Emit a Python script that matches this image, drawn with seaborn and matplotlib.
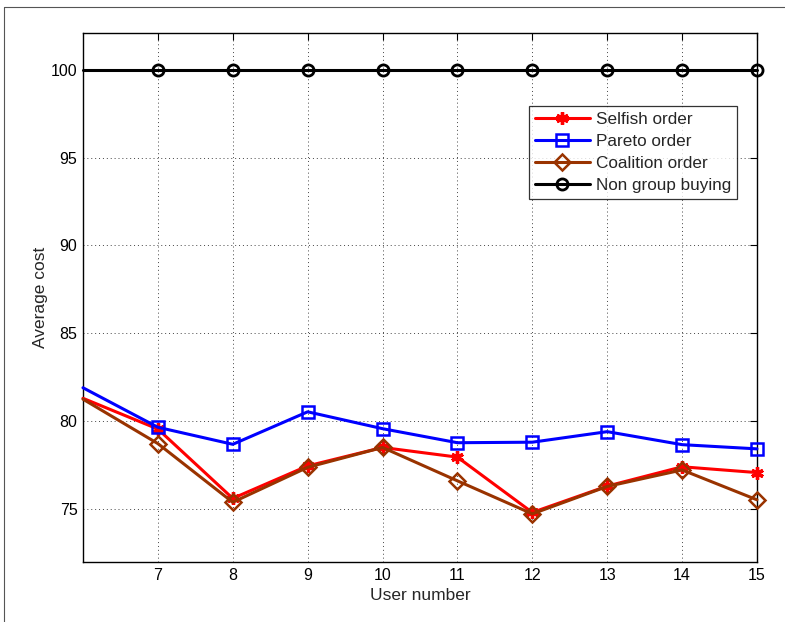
"""
Average cost vs. user number for the four ordering strategies.
Writes out.png (785x622).
"""

import pandas as pd
import matplotlib.pyplot as plt
import seaborn as sns
from matplotlib.lines import Line2D

USERS = [6, 7, 8, 9, 10, 11, 12, 13, 14, 15]
SELFISH = [81.3, 79.55, 75.6, 77.45, 78.5, 77.95, 74.8, 76.3, 77.4, 77.07]
PARETO = [81.9, 79.65, 78.68, 80.53, 79.57, 78.77, 78.8, 79.4, 78.66, 78.42]
COALITION = [81.25, 78.72, 75.38, 77.37, 78.5, 76.6, 74.72, 76.28, 77.22, 75.52]
NON_GROUP = [100, 100, 100, 100, 100, 100, 100, 100, 100, 100]

X_TICKS = [7, 8, 9, 10, 11, 12, 13, 14, 15]
Y_TICKS = [75, 80, 85, 90, 95, 100]

SERIES = [
    ("Selfish order", SELFISH, "#ff0000", dict(marker=(6, 2, 0), markersize=9, markeredgewidth=2.4)),
    ("Pareto order", PARETO, "#0000ff", dict(marker="s", markersize=8, markerfacecolor="none", markeredgewidth=1.8)),
    ("Coalition order", COALITION, "#993300", dict(marker="D", markersize=8, markerfacecolor="none", markeredgewidth=1.8)),
    ("Non group buying", NON_GROUP, "#000000", dict(marker="o", markersize=8, markerfacecolor="none", markeredgewidth=2.0)),
]


def main() -> None:
    sns.set_style("white")
    plt.rcParams["font.family"] = ["Liberation Sans", "DejaVu Sans"]

    fig = plt.figure(figsize=(7.85, 6.22), dpi=100)
    ax = fig.add_axes([0.1057, 0.0965, 0.8586, 0.8505])

    for label, values, color, style in SERIES:
        df = pd.DataFrame({"user": USERS, "cost": values})
        sns.lineplot(data=df, x="user", y="cost", ax=ax, color=color,
                     linewidth=2.2, label=label, markevery=list(range(1, len(USERS))),
                     markeredgecolor=color, clip_on=False, zorder=3, **style)

    ax.set_xlim(6, 15)
    ax.set_ylim(71.98, 102.1)
    ax.set_xticks(X_TICKS)
    ax.set_yticks(Y_TICKS)
    ax.set_xlabel("User number", fontsize=12.5, labelpad=4)
    ax.set_ylabel("Average cost", fontsize=12.5, labelpad=2)
    ax.tick_params(direction="in", length=5, width=0.8, labelsize=11.5,
                   top=True, right=True, colors="black", pad=4)
    ax.grid(True, linestyle=(0, (1, 3)), color="#444444", linewidth=0.7)
    for sp in ax.spines.values():
        sp.set_color("black")
        sp.set_linewidth(1.0)

    leg = ax.legend(loc="upper right", bbox_to_anchor=(0.970, 0.862),
                    fontsize=12.3, frameon=True, fancybox=False,
                    handlelength=3.2, borderpad=0.35, labelspacing=0.42,
                    handletextpad=0.35, borderaxespad=0)
    leg.get_frame().set_edgecolor("black")
    leg.get_frame().set_linewidth(0.9)

    # thin frame lines along the top and left of the figure
    fig.add_artist(Line2D([4 / 785, 1], [1 - 7 / 622, 1 - 7 / 622],
                          transform=fig.transFigure, color="#555555", linewidth=0.8))
    fig.add_artist(Line2D([4 / 785, 4 / 785], [0, 1 - 7 / 622],
                          transform=fig.transFigure, color="#555555", linewidth=0.8))

    fig.savefig("out.png", dpi=100)
    plt.close(fig)


if __name__ == "__main__":
    main()
